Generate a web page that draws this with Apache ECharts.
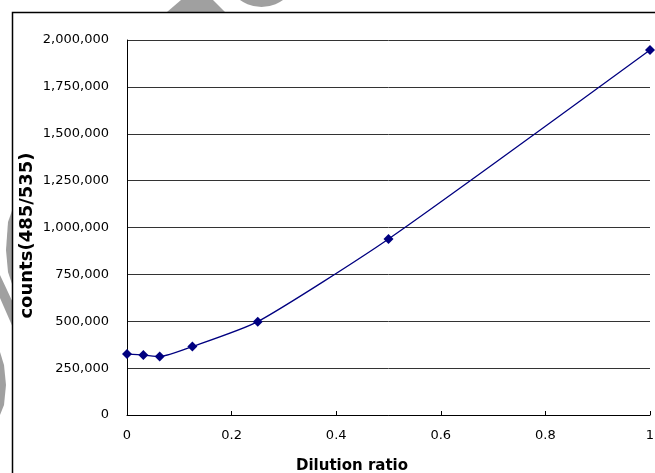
<!DOCTYPE html>
<html><head><meta charset="utf-8">
<script src="https://cdn.jsdelivr.net/npm/echarts@6/dist/echarts.min.js"></script>
<style>html,body{margin:0;padding:0;background:#fff}#c{width:655px;height:473px}</style>
</head><body><div id="c"></div>
<script>
const dilution = [0, 0.03125, 0.0625, 0.125, 0.25, 0.5, 1];
const counts = [325000, 320000, 312000, 365000, 498000, 939000, 1947000];
const xTicks = [0, 0.2, 0.4, 0.6, 0.8, 1];
const yTicks = [0, 250000, 500000, 750000, 1000000, 1250000, 1500000, 1750000, 2000000];
const xTitle = 'Dilution ratio';
const yTitle = 'counts(485/535)';

const font = 'DejaVu Sans';
const gray = '#a0a0a0';
const chart = echarts.init(document.getElementById('c'), null, {renderer: 'canvas'});
chart.setOption({
  animation: false,
  backgroundColor: '#fff',
  graphic: [
    {type: 'polygon', z: -10, shape: {points: [[167,12],[225,12],[213,0],[181,0]]}, style: {fill: gray}},
    {type: 'circle', z: -10, shape: {cx: 261.5, cy: -29.5, r: 36.5}, style: {fill: gray}},
    {type: 'polygon', z: -10, shape: {points: [[14,205],[8,222],[6,250],[8,272],[14,290]]}, style: {fill: gray}},
    {type: 'polygon', z: -10, shape: {points: [[0,275],[0,298],[14,330],[14,305]]}, style: {fill: gray}},
    {type: 'polygon', z: -10, shape: {points: [[0,352],[4,365],[6,385],[4,405],[0,415]]}, style: {fill: gray}},
    {type: 'rect', z: -5, shape: {x: 12.5, y: 12.5, width: 700, height: 500}, style: {fill: '#fff', stroke: '#000', lineWidth: 1.5}}
  ],
  grid: {left: 127, right: 5, top: 40, bottom: 58, containLabel: false, outerBoundsMode: 'none'},
  xAxis: {
    type: 'value', min: 0, max: 1, interval: 0.2,
    name: xTitle, nameLocation: 'middle', nameGap: 44, nameMoveOverlap: false,
    nameTextStyle: {fontFamily: font, fontWeight: 'bold', fontSize: 15, color: '#000', padding: [0, 73, 0, 0]},
    axisLine: {show: true, lineStyle: {color: '#000', width: 1}},
    axisTick: {show: true, inside: true, length: 4, lineStyle: {color: '#000'}},
    axisLabel: {fontFamily: font, fontSize: 13, color: '#000', margin: 14,
      customValues: xTicks},
    splitLine: {show: false}
  },
  yAxis: {
    type: 'value', min: 0, max: 2000000, interval: 250000,
    name: yTitle, nameLocation: 'middle', nameGap: 91, nameRotate: 90, nameMoveOverlap: false,
    nameTextStyle: {fontFamily: font, fontWeight: 'bold', fontSize: 18, color: '#000', padding: [0, 16, 0, 0]},
    axisLine: {show: true, lineStyle: {color: '#000', width: 1}},
    axisTick: {show: false},
    axisLabel: {fontFamily: font, fontSize: 13, color: '#000', margin: 18,
      formatter: v => v.toLocaleString('en-US')},
    splitLine: {show: true, lineStyle: {color: '#333', width: 1}}
  },
  series: [{
    type: 'line',
    data: dilution.map((x, i) => [x, counts[i]]),
    smooth: 0.2,
    symbol: 'diamond', symbolSize: 10,
    lineStyle: {color: '#000080', width: 1.3},
    itemStyle: {color: '#000080'}
  }]
});
</script></body></html>
